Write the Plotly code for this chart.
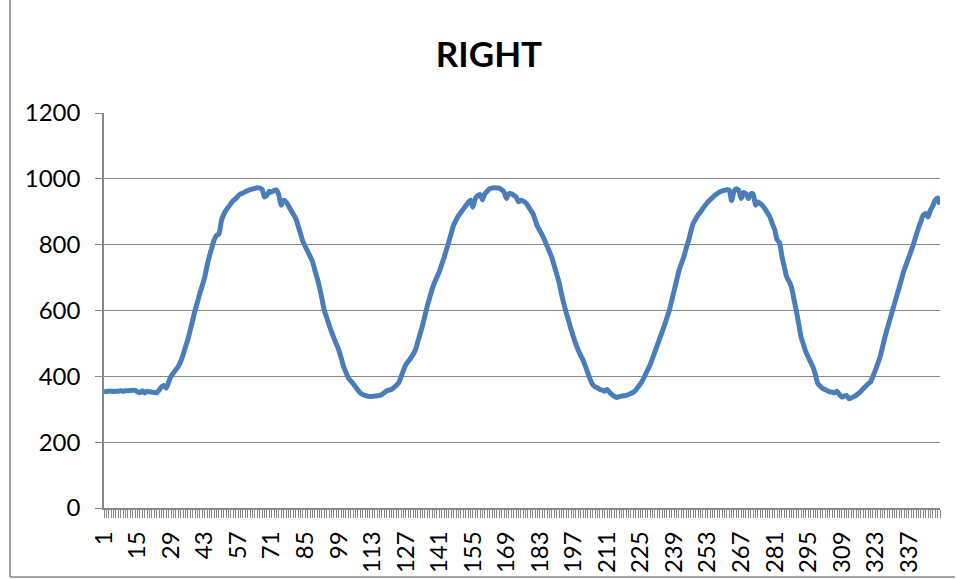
import plotly.graph_objects as go

# Sensor reading for the right channel, one value per sample
samples = list(range(1, 351))
right_values = [
    355, 354, 355, 355, 354, 355, 355, 356, 355, 356,
    356, 357, 358, 357, 353, 350, 356, 349, 355, 353,
    352, 351, 350, 358, 368, 372, 364, 383, 400, 410,
    420, 430, 445, 465, 489, 512, 540, 570, 600, 625,
    652, 675, 700, 735, 765, 790, 815, 828, 833, 872,
    892, 905, 915, 925, 934, 940, 948, 954, 957, 961,
    964, 967, 969, 971, 973, 972, 968, 945, 950, 962,
    960, 965, 966, 950, 920, 935, 930, 918, 905, 893,
    880, 858, 835, 810, 795, 780, 765, 750, 723, 698,
    670, 635, 600, 578, 556, 535, 516, 498, 480, 456,
    430, 412, 395, 386, 378, 368, 358, 350, 345, 342,
    340, 339, 339, 340, 341, 342, 345, 350, 356, 358,
    360, 366, 372, 380, 398, 418, 435, 445, 455, 466,
    480, 505, 530, 555, 585, 615, 640, 665, 685, 702,
    718, 740, 762, 786, 810, 836, 860, 875, 888, 898,
    908, 918, 928, 935, 914, 940, 949, 952, 936, 955,
    962, 970, 972, 973, 972, 972, 967, 960, 940, 955,
    955, 950, 945, 930, 935, 932, 928, 918, 906, 895,
    875, 855, 842, 828, 813, 795, 778, 760, 735, 710,
    685, 650, 620, 592, 568, 542, 519, 498, 479, 463,
    449, 430, 410, 390, 375, 368, 365, 360, 358, 355,
    360, 352, 345, 340, 336, 338, 340, 341, 342, 345,
    348, 352, 358, 368, 378, 390, 405, 420, 435, 455,
    475, 495, 515, 535, 555, 578, 600, 630, 660, 690,
    720, 742, 762, 788, 812, 840, 865, 878, 890, 899,
    910, 920, 929, 936, 943, 950, 955, 960, 963, 965,
    967, 966, 934, 962, 970, 965, 940, 958, 955, 940,
    955, 954, 920, 930, 925, 918, 908, 896, 884, 864,
    845, 815, 806, 765, 733, 702, 688, 671, 635, 600,
    560, 520, 497, 474, 458, 443, 428, 405, 378, 370,
    363, 360, 356, 353, 352, 350, 355, 345, 337, 340,
    342, 332, 335, 338, 342, 348, 355, 363, 370, 377,
    383, 400, 418, 438, 459, 489, 519, 545, 570, 596,
    621, 646, 671, 697, 722, 742, 762, 782, 803, 828,
    850, 870, 890, 895, 884, 905, 918, 935, 942, 922,
]

x_tick_values = list(range(1, 351, 14))
x_tick_labels = [str(v) for v in x_tick_values]
y_tick_values = [0, 200, 400, 600, 800, 1000, 1200]

W, H = 957, 579
L, R, T, B = 104, 17, 113, 71
grey = "#868686"
font_family = "Lato, 'Open Sans', sans-serif"

fig = go.Figure()
fig.add_trace(go.Scatter(
    x=samples, y=right_values, mode="lines",
    line=dict(color="#4A7EBB", width=5, shape="spline", smoothing=0.6),
    hoverinfo="x+y", showlegend=False,
))

fig.update_layout(
    width=W, height=H,
    margin=dict(l=L, r=R, t=T, b=B, pad=0),
    paper_bgcolor="white", plot_bgcolor="white",
    title=dict(text="<b>RIGHT</b>", x=489 / W, xanchor="center",
               y=1 - 55 / H, yanchor="middle",
               font=dict(family=font_family, size=35, color="black")),
    font=dict(family=font_family, size=24, color="black"),
    xaxis=dict(
        range=[1, 350], tickmode="array", tickvals=x_tick_values,
        ticktext=x_tick_labels, tickangle=-90, automargin=False,
        showgrid=False, zeroline=False,
        showline=True, linecolor=grey, linewidth=1.5,
        ticks="outside", ticklen=8, tickcolor=grey, tickwidth=1,
        minor=dict(dtick=1, tick0=1, ticks="outside", ticklen=8,
                   tickcolor=grey, tickwidth=1, showgrid=False),
        ticklabelstandoff=4,
        tickfont=dict(size=24),
    ),
    yaxis=dict(
        range=[0, 1200], tickmode="array", tickvals=y_tick_values,
        automargin=False,
        showgrid=True, gridcolor=grey, gridwidth=1.2,
        zeroline=False, showline=True, linecolor=grey, linewidth=1.5,
        ticks="outside", ticklen=7, tickcolor=grey, tickwidth=1,
        ticklabelstandoff=10,
        tickfont=dict(size=24),
    ),
    shapes=[
        # chart area frame (left and bottom edges)
        dict(type="line", xref="paper", yref="paper",
             x0=(10 - L) / (W - L - R), x1=(10 - L) / (W - L - R),
             y0=-(B - 2) / (H - T - B), y1=1 + (T + 2) / (H - T - B),
             line=dict(color=grey, width=1.5)),
        dict(type="line", xref="paper", yref="paper",
             x0=(10 - L) / (W - L - R), x1=1 + (R - 2) / (W - L - R),
             y0=-(B - 2) / (H - T - B), y1=-(B - 2) / (H - T - B),
             line=dict(color=grey, width=1.5)),
    ],
)

fig.write_html("out.html")
